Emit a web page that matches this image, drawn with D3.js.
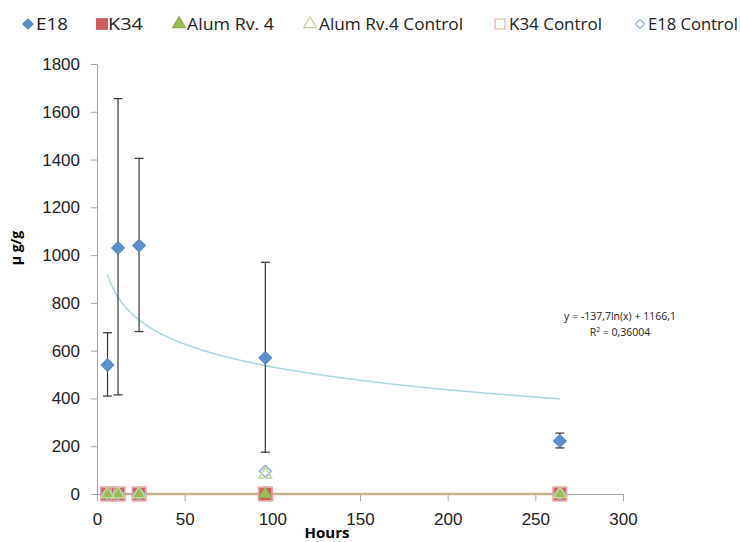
<!DOCTYPE html>
<html>
<head>
<meta charset="utf-8">
<script src="https://cdn.jsdelivr.net/npm/d3@7"></script>
<style>
  body { margin: 0; background: #fff; }
  svg { font-family: "Open Sans", "Liberation Sans", sans-serif; }
</style>
</head>
<body>
<svg id="chart" width="740" height="542"></svg>
<script>
const width = 740, height = 542;

// data
const hours = [6, 12, 24, 96, 264];
const e18 = [540, 1030, 1040, 570, 222];
const e18Low = [410, 415, 680, 175, 193];
const e18High = [675, 1655, 1405, 970, 255];
const k34 = [0, 0, 0, 0, 0];
const alum = [0, 0, 0, 0, 0];
const alumControl = [0, 0, 0, 82, 0];
const k34Control = [0, 0, 0, 0, 0];
const e18Control = [0, 0, 0, 95, 0];
const trendA = -137.7, trendB = 1166.1;   // y = a ln(x) + b
const xTicks = [0, 50, 100, 150, 200, 250, 300];
const yTicks = [0, 200, 400, 600, 800, 1000, 1200, 1400, 1600, 1800];

const svg = d3.select("#chart");

const x = d3.scaleLinear().domain([0, 300]).range([97, 623]);
const y = d3.scaleLinear().domain([0, 1800]).range([494, 64]);

const axisColor = "#a6a6a6";

// y axis
const yAxis = svg.append("g")
    .attr("transform", "translate(97,0)")
    .call(d3.axisLeft(y).tickValues(yTicks).tickSize(6).tickSizeOuter(0).tickPadding(11).tickFormat(d3.format("d")));
yAxis.select(".domain").attr("stroke", axisColor);
yAxis.selectAll(".tick line").attr("stroke", axisColor);
yAxis.selectAll(".tick text").attr("font-size", 17).attr("fill", "#222");

// x axis
const xAxis = svg.append("g")
    .attr("transform", "translate(0,494)")
    .call(d3.axisBottom(x).tickValues(xTicks).tickSize(7).tickSizeOuter(0).tickPadding(12));
xAxis.select(".domain").attr("stroke", axisColor);
xAxis.selectAll(".tick line").attr("stroke", axisColor);
xAxis.selectAll(".tick text").attr("font-size", 17).attr("fill", "#222");

// axis titles
svg.append("text")
    .attr("transform", "translate(21,248) rotate(-90)")
    .attr("text-anchor", "middle")
    .attr("font-size", 14).attr("font-weight", "bold")
    .text("μ g/g");
svg.append("text")
    .attr("x", 327).attr("y", 538)
    .attr("text-anchor", "middle")
    .attr("font-size", 15).attr("font-weight", "bold")
    .text("Hours");

// flat trendline near zero
const flat = d3.line().x(d => x(d)).y(() => y(0));
svg.append("path").datum([hours[0], hours[4]])
    .attr("d", flat).attr("stroke", "#c8b48c").attr("stroke-width", 2.5).attr("fill", "none");

// log trendline for E18
const trendX = d3.range(hours[0], hours[4] + 0.5, 1);
const trendLine = d3.line().x(d => x(d)).y(d => y(trendA * Math.log(d) + trendB));
svg.append("path").datum(trendX)
    .attr("d", trendLine).attr("stroke", "#a9d7e3").attr("stroke-width", 1.5).attr("fill", "none");

// error bars for E18
const eb = svg.append("g").attr("stroke", "#333").attr("stroke-width", 1.2);
hours.forEach((h, i) => {
  eb.append("line").attr("x1", x(h)).attr("x2", x(h)).attr("y1", y(e18Low[i])).attr("y2", y(e18High[i]));
  [e18Low[i], e18High[i]].forEach(v => {
    eb.append("line").attr("x1", x(h) - 4.5).attr("x2", x(h) + 4.5).attr("y1", y(v)).attr("y2", y(v));
  });
});

const sym = (type, size) => d3.symbol().type(type).size(size)();

function drawSeries(vals, type, size, fill, stroke, sw, rot) {
  svg.append("g").selectAll("path")
    .data(hours.map((h, i) => [h, vals[i]]))
    .join("path")
    .attr("transform", d => `translate(${x(d[0])},${y(d[1])}) rotate(${rot || 0})`)
    .attr("d", sym(type, size))
    .attr("fill", fill).attr("stroke", stroke).attr("stroke-width", sw);
}

// K34 filled squares
drawSeries(k34, d3.symbolSquare, 180, "#d0605c", "#c0504d", 1);
// K34 control squares
drawSeries(k34Control, d3.symbolSquare, 180, "none", "#e6a9a8", 1.5);
// E18 control open diamond
drawSeries(e18Control, d3.symbolSquare, 70, "none", "#95b3d7", 1.5, 45);
// Alum Rv.4 filled triangle
drawSeries(alum, d3.symbolTriangle, 70, "#9bbb59", "#8eae4e", 0.5);
// Alum control open triangle
drawSeries(alumControl, d3.symbolTriangle, 70, "none", "#c3d69b", 1.5);
// E18 filled diamonds
drawSeries(e18, d3.symbolSquare, 88, "#5b8fcf", "#4a7ebb", 0.8, 45);

// equation
svg.append("text").attr("x", 620).attr("y", 320).attr("text-anchor", "middle")
    .attr("font-size", 10.5).attr("fill", "#222").text("y = -137,7ln(x) + 1166,1");
svg.append("text").attr("x", 620).attr("y", 336).attr("text-anchor", "middle")
    .attr("font-size", 10.5).attr("fill", "#222")
    .html('R<tspan dy="-4" font-size="7">2</tspan><tspan dy="4"> = 0,36004</tspan>');

// legend
const legendNames = ["E18", "K34", "Alum Rv. 4", "Alum Rv.4 Control", "K34 Control", "E18 Control"];
const legendStyle = [
  { type: d3.symbolSquare, size: 50, rot: 45, fill: "#5b8fcf", stroke: "#4a7ebb", mx: 28, tx: 36, tw: 32 },
  { type: d3.symbolSquare, size: 110, rot: 0, fill: "#d0605c", stroke: "#c0504d", mx: 102, tx: 108, tw: 35 },
  { type: d3.symbolTriangle, size: 70, rot: 0, fill: "#9bbb59", stroke: "#8eae4e", mx: 179, tx: 187, tw: 87 },
  { type: d3.symbolTriangle, size: 70, rot: 0, fill: "none", stroke: "#c3d69b", mx: 310, tx: 319, tw: 144 },
  { type: d3.symbolSquare, size: 100, rot: 0, fill: "none", stroke: "#e6a9a8", mx: 500, tx: 509, tw: 93 },
  { type: d3.symbolSquare, size: 44, rot: 45, fill: "none", stroke: "#95b3d7", mx: 640, tx: 648, tw: 90 }
];
const lg = svg.append("g");
legendNames.forEach((name, i) => {
  const d = legendStyle[i];
  lg.append("path").attr("transform", `translate(${d.mx},24) rotate(${d.rot})`)
    .attr("d", sym(d.type, d.size))
    .attr("fill", d.fill).attr("stroke", d.stroke).attr("stroke-width", 1.2);
  lg.append("text").attr("x", d.tx).attr("y", 30)
    .attr("font-size", 17).attr("fill", "#222")
    .attr("textLength", d.tw).attr("lengthAdjust", "spacingAndGlyphs")
    .text(name);
});
</script>
</body>
</html>
